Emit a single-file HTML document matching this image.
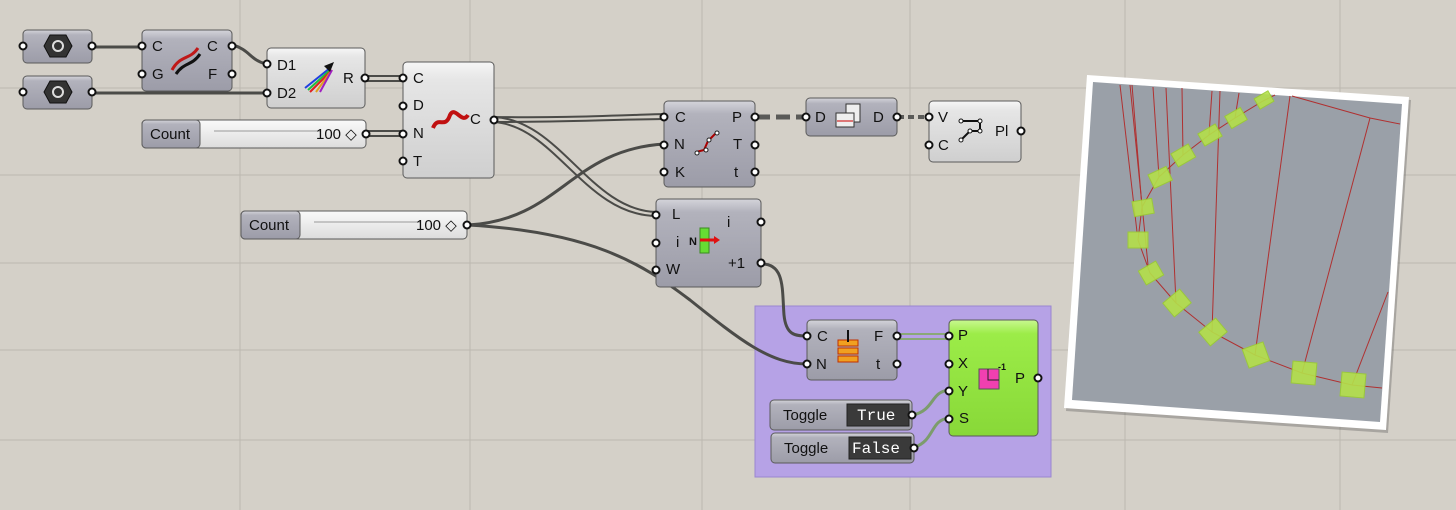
<!DOCTYPE html>
<html><head><meta charset="utf-8"><style>
html,body{margin:0;padding:0;background:#d4d0c8;}
svg{display:block;font-family:"Liberation Sans","DejaVu Sans",sans-serif;}
</style></head><body>
<svg width="1456" height="510" viewBox="0 0 1456 510" xmlns="http://www.w3.org/2000/svg">
<defs>
<linearGradient id="gd" x1="0" y1="0" x2="0" y2="1"><stop offset="0" stop-color="#d4d4da"/><stop offset="0.15" stop-color="#b2b2bc"/><stop offset="1" stop-color="#9c9ca8"/></linearGradient>
<linearGradient id="gl" x1="0" y1="0" x2="0" y2="1"><stop offset="0" stop-color="#f6f6f6"/><stop offset="0.15" stop-color="#e6e6e6"/><stop offset="1" stop-color="#cfcfcf"/></linearGradient>
<linearGradient id="gg" x1="0" y1="0" x2="0" y2="1"><stop offset="0" stop-color="#c8f890"/><stop offset="0.12" stop-color="#9cec48"/><stop offset="1" stop-color="#88d838"/></linearGradient>
<linearGradient id="gs" x1="0" y1="0" x2="0" y2="1"><stop offset="0" stop-color="#fafafa"/><stop offset="1" stop-color="#dcdcdc"/></linearGradient>
</defs>
<rect width="1456" height="510" fill="#d4d0c8"/>
<g stroke="#bcb8b0" stroke-width="1">
<line x1="240" y1="0" x2="240" y2="510"/><line x1="470" y1="0" x2="470" y2="510"/><line x1="702" y1="0" x2="702" y2="510"/><line x1="910" y1="0" x2="910" y2="510"/><line x1="1125" y1="0" x2="1125" y2="510"/><line x1="1340" y1="0" x2="1340" y2="510"/>
<line x1="0" y1="88" x2="1456" y2="88"/><line x1="0" y1="175" x2="1456" y2="175"/><line x1="0" y1="263" x2="1456" y2="263"/><line x1="0" y1="350" x2="1456" y2="350"/><line x1="0" y1="440" x2="1456" y2="440"/>
</g>
<rect x="755" y="306" width="296" height="171" fill="#b6a2e6" stroke="#9a86d0" stroke-width="1"/>
<g fill="none" stroke="#4b4b48" stroke-width="3">
<path d="M93 47 H142"/>
<path d="M93 93 H266"/>
<path d="M233 45 C250 50,250 60,266 64"/>
<path d="M762 264 C785 264,782 290,784 315 C786 335,795 336,807 336"/>
<path d="M468 225 C590 232,640 262,690 300 C740 340,770 364,807 364"/>
<path d="M468 225 C560 220,570 150,664 144"/>
</g>
<g fill="none" stroke="#4b4b48" stroke-width="2">
<path d="M366 76 H403"/><path d="M366 81 H403"/>
<path d="M366 131 H403"/><path d="M366 136 H403"/>
<path d="M494 117 C560 118,600 116,664 114"/><path d="M494 122 C560 122,600 120,664 119"/>
<path d="M494 117 C560 120,590 210,656 212"/><path d="M494 122 C555 126,585 215,656 216"/>
</g>
<path d="M756 117 H806" stroke="#5a5a58" stroke-width="5" stroke-dasharray="14 6" fill="none"/>
<path d="M898 117 H929" stroke="#5a5a58" stroke-width="4" stroke-dasharray="6 4" fill="none"/>
<g fill="none" stroke="#8aa878" stroke-width="2">
<path d="M898 334 H949"/><path d="M898 339 H949"/>
</g>
<g fill="none" stroke="#7c9c6c" stroke-width="3">
<path d="M913 415 C935 410,930 392,949 390"/>
<path d="M915 447 C935 440,930 420,949 418"/>
</g>
<g stroke="#5a5a5a" stroke-width="1">
<rect x="23" y="30" width="69" height="33" rx="4" fill="url(#gd)"/>
<rect x="23" y="76" width="69" height="33" rx="4" fill="url(#gd)"/>
<rect x="142" y="30" width="90" height="61" rx="4" fill="url(#gd)"/>
<rect x="267" y="48" width="98" height="60" rx="4" fill="url(#gl)"/>
<rect x="403" y="62" width="91" height="116" rx="4" fill="url(#gl)"/>
<rect x="142" y="120" width="224" height="28" rx="4" fill="url(#gs)"/>
<rect x="142" y="120" width="58" height="28" rx="4" fill="url(#gd)"/>
<rect x="241" y="211" width="226" height="28" rx="4" fill="url(#gs)"/>
<rect x="241" y="211" width="59" height="28" rx="4" fill="url(#gd)"/>
<rect x="664" y="101" width="91" height="86" rx="4" fill="url(#gd)"/>
<rect x="806" y="98" width="91" height="38" rx="4" fill="url(#gd)"/>
<rect x="929" y="101" width="92" height="61" rx="4" fill="url(#gl)"/>
<rect x="656" y="199" width="105" height="88" rx="4" fill="url(#gd)"/>
<rect x="807" y="320" width="90" height="60" rx="4" fill="url(#gd)"/>
<rect x="949" y="320" width="89" height="116" rx="4" fill="url(#gg)"/>
<rect x="770" y="400" width="142" height="30" rx="4" fill="url(#gd)"/>
<rect x="771" y="433" width="143" height="30" rx="4" fill="url(#gd)"/>
</g>
<rect x="847" y="404" width="62" height="22" fill="#3a3a3a" stroke="#222"/>
<rect x="849" y="437" width="62" height="22" fill="#3a3a3a" stroke="#222"/>
<g stroke="#999" stroke-width="1">
<line x1="214" y1="131" x2="320" y2="131"/><line x1="314" y1="222" x2="420" y2="222"/>
</g>
<g fill="#333" stroke="#111">
<polygon points="44,46 50,35 66,35 72,46 66,57 50,57"/>
<polygon points="44,92 50,81 66,81 72,92 66,103 50,103"/>
</g>
<circle cx="58" cy="46" r="5" fill="none" stroke="#ddd" stroke-width="2"/>
<circle cx="58" cy="92" r="5" fill="none" stroke="#ddd" stroke-width="2"/>
<path d="M172 70 C180 55,190 60,198 48" stroke="#c01818" stroke-width="3" fill="none"/>
<path d="M176 74 C184 62,192 66,200 54" stroke="#111" stroke-width="3" fill="none"/>
<g stroke-width="2" fill="none"><path d="M305 88 L330 68" stroke="#2040e0"/><path d="M308 90 L330 70" stroke="#20c040"/><path d="M310 92 L330 72" stroke="#e02020"/><path d="M316 92 L332 70" stroke="#e0a020"/><path d="M320 92 L332 70" stroke="#a020c0"/></g>
<polygon points="324,66 334,62 330,72" fill="#111"/>
<path d="M433 128 C438 115,445 130,450 115 C455 105,462 125,468 115" stroke="#c01010" stroke-width="4" fill="none"/>
<path d="M696 152 L704 150 L708 141 L716 133" stroke="#a00" stroke-width="2" fill="none"/>
<g fill="#fff" stroke="#222"><circle cx="697" cy="153" r="2"/><circle cx="706" cy="150" r="2"/><circle cx="709" cy="140" r="2"/><circle cx="717" cy="133" r="2"/></g>
<rect x="846" y="104" width="14" height="18" fill="#eee" stroke="#333"/>
<rect x="836" y="113" width="18" height="14" fill="#eee" stroke="#333"/>
<line x1="837" y1="121" x2="853" y2="121" stroke="#c00"/>
<path d="M961 140 L970 131 L980 131 L980 121 L961 121" stroke="#111" stroke-width="2" fill="none"/>
<g fill="#fff" stroke="#111"><circle cx="961" cy="140" r="2"/><circle cx="970" cy="131" r="2"/><circle cx="980" cy="131" r="2"/><circle cx="980" cy="121" r="2"/><circle cx="961" cy="121" r="2"/></g>
<rect x="700" y="228" width="9" height="25" fill="#66dd33" stroke="#3a8a20"/>
<path d="M700 240 H715" stroke="#e01010" stroke-width="3"/><polygon points="714,236 720,240 714,244" fill="#e01010"/>
<text x="689" y="245" font-size="11" font-weight="bold" fill="#111">N</text>
<rect x="838" y="340" width="20" height="6" fill="#f0a020" stroke="#c03000"/><rect x="838" y="348" width="20" height="6" fill="#f0a020" stroke="#c03000"/><rect x="838" y="356" width="20" height="6" fill="#f0a020" stroke="#c03000"/>
<line x1="848" y1="330" x2="848" y2="342" stroke="#111" stroke-width="2"/>
<rect x="979" y="369" width="20" height="20" fill="#f040b0" stroke="#555"/>
<path d="M988 369 V380 H999 M988 380" stroke="#222" fill="none"/>
<text x="998" y="370" font-size="9" font-weight="bold" fill="#111">-1</text>
<g font-size="15" fill="#111">
<text x="152" y="51">C</text><text x="152" y="79">G</text><text x="207" y="51">C</text><text x="208" y="79">F</text>
<text x="277" y="70">D1</text><text x="277" y="98">D2</text><text x="343" y="83">R</text>
<text x="413" y="83">C</text><text x="413" y="110">D</text><text x="413" y="138">N</text><text x="413" y="166">T</text><text x="470" y="124">C</text>
<text x="150" y="139">Count</text><text x="316" y="139">100 ◇</text>
<text x="249" y="230">Count</text><text x="416" y="230">100 ◇</text>
<text x="675" y="122">C</text><text x="674" y="149">N</text><text x="675" y="177">K</text><text x="732" y="122">P</text><text x="733" y="149">T</text><text x="734" y="177">t</text>
<text x="815" y="122">D</text><text x="873" y="122">D</text>
<text x="938" y="122">V</text><text x="938" y="150">C</text><text x="995" y="136">Pl</text>
<text x="672" y="219">L</text><text x="676" y="247">i</text><text x="666" y="274">W</text><text x="727" y="227">i</text><text x="728" y="268">+1</text>
<text x="817" y="341">C</text><text x="816" y="369">N</text><text x="874" y="341">F</text><text x="876" y="369">t</text>
<text x="958" y="340">P</text><text x="958" y="368">X</text><text x="958" y="396">Y</text><text x="959" y="423">S</text><text x="1015" y="383">P</text>
<text x="783" y="420">Toggle</text><text x="784" y="453">Toggle</text>
</g>
<g font-family="Liberation Mono, monospace" font-size="16" fill="#fff">
<text x="857" y="420">True</text><text x="852" y="453">False</text>
</g>
<g fill="#fff" stroke="#111" stroke-width="2">
<circle cx="23" cy="46" r="3.5"/><circle cx="92" cy="46" r="3.5"/><circle cx="23" cy="92" r="3.5"/><circle cx="92" cy="92" r="3.5"/>
<circle cx="142" cy="46" r="3.5"/><circle cx="142" cy="74" r="3.5"/><circle cx="232" cy="46" r="3.5"/><circle cx="232" cy="74" r="3.5"/>
<circle cx="267" cy="64" r="3.5"/><circle cx="267" cy="93" r="3.5"/><circle cx="365" cy="78" r="3.5"/>
<circle cx="403" cy="78" r="3.5"/><circle cx="403" cy="106" r="3.5"/><circle cx="403" cy="134" r="3.5"/><circle cx="403" cy="161" r="3.5"/><circle cx="494" cy="120" r="3.5"/>
<circle cx="366" cy="134" r="3.5"/><circle cx="467" cy="225" r="3.5"/>
<circle cx="664" cy="117" r="3.5"/><circle cx="664" cy="145" r="3.5"/><circle cx="664" cy="172" r="3.5"/><circle cx="755" cy="117" r="3.5"/><circle cx="755" cy="145" r="3.5"/><circle cx="755" cy="172" r="3.5"/>
<circle cx="806" cy="117" r="3.5"/><circle cx="897" cy="117" r="3.5"/>
<circle cx="929" cy="117" r="3.5"/><circle cx="929" cy="145" r="3.5"/><circle cx="1021" cy="131" r="3.5"/>
<circle cx="656" cy="215" r="3.5"/><circle cx="656" cy="243" r="3.5"/><circle cx="656" cy="270" r="3.5"/><circle cx="761" cy="222" r="3.5"/><circle cx="761" cy="263" r="3.5"/>
<circle cx="807" cy="336" r="3.5"/><circle cx="807" cy="364" r="3.5"/><circle cx="897" cy="336" r="3.5"/><circle cx="897" cy="364" r="3.5"/>
<circle cx="949" cy="336" r="3.5"/><circle cx="949" cy="364" r="3.5"/><circle cx="949" cy="391" r="3.5"/><circle cx="949" cy="419" r="3.5"/><circle cx="1038" cy="378" r="3.5"/>
<circle cx="912" cy="415" r="3.5"/><circle cx="914" cy="448" r="3.5"/>
</g>
<polygon points="1089,78 1411,100 1388,433 1066,411" fill="#555" opacity="0.35"/>
<polygon points="1087,75 1409,97 1386,430 1064,408" fill="#fff"/>
<polygon points="1093,82 1402,104 1380,422 1072,400" fill="#9aa0a8"/>
<g stroke="#b03030" stroke-width="1" fill="none">
<path d="M1275,95 L1263,101 L1235,118 L1209,135 L1183,155 L1159,177 L1142,207 L1138,240 L1150,273 L1176,303 L1212,332 L1255,355 L1302,373 L1352,385 L1382,388"/>
<path d="M1292,96 L1370,118 L1400,124"/>
<path d="M1120,85 L1137,232"/><path d="M1130,85 L1148,265"/><path d="M1132,85 L1142,207"/><path d="M1153,87 L1159,177"/><path d="M1166,88 L1176,303"/><path d="M1182,88 L1183,155"/><path d="M1212,91 L1209,135"/><path d="M1220,91 L1212,332"/><path d="M1239,93 L1235,118"/><path d="M1290,96 L1255,355"/><path d="M1370,118 L1302,373"/><path d="M1388,292 L1352,385"/>
</g>
<g fill="#b4e04a" opacity="0.9" stroke="#9acc30" stroke-width="1">
<rect x="1256" y="94" width="16" height="12" transform="rotate(-30 1264 100)"/>
<rect x="1227" y="111" width="18" height="14" transform="rotate(-30 1236 118)"/>
<rect x="1200" y="128" width="20" height="14" transform="rotate(-30 1210 135)"/>
<rect x="1173" y="148" width="20" height="15" transform="rotate(-30 1183 155)"/>
<rect x="1150" y="170" width="20" height="15" transform="rotate(-25 1160 177)"/>
<rect x="1133" y="200" width="20" height="15" transform="rotate(-10 1143 207)"/>
<rect x="1128" y="232" width="20" height="16"/>
<rect x="1141" y="265" width="20" height="16" transform="rotate(-30 1151 273)"/>
<rect x="1166" y="294" width="22" height="18" transform="rotate(-40 1177 303)"/>
<rect x="1202" y="323" width="22" height="18" transform="rotate(-40 1213 332)"/>
<rect x="1245" y="345" width="22" height="20" transform="rotate(-20 1256 355)"/>
<rect x="1292" y="362" width="24" height="22" transform="rotate(5 1304 373)"/>
<rect x="1341" y="373" width="24" height="24" transform="rotate(5 1353 385)"/>
</g>
</svg>
</body></html>
